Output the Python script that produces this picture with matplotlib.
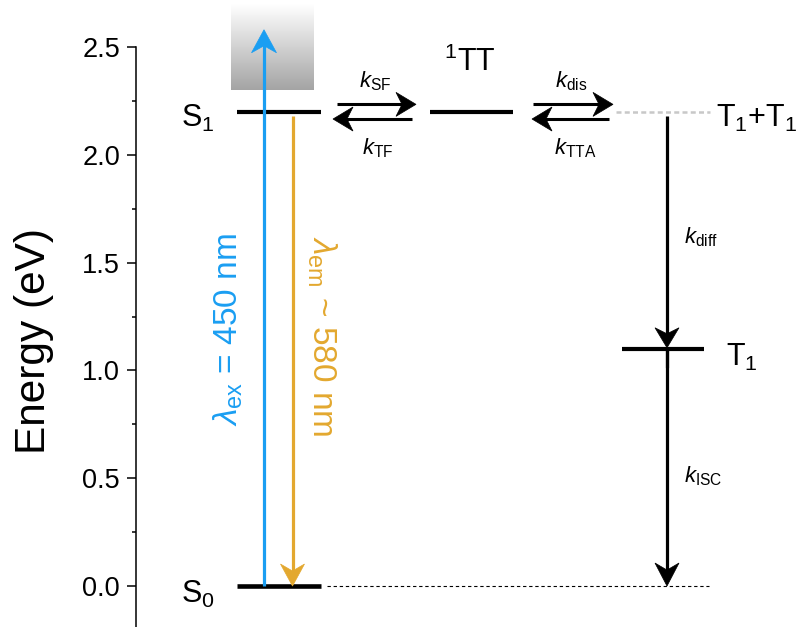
import numpy as np
import matplotlib
matplotlib.use("Agg")
import matplotlib.pyplot as plt
from matplotlib.colors import LinearSegmentedColormap
from matplotlib.patches import Polygon

plt.rcParams["font.family"] = ["Liberation Sans", "DejaVu Sans"]
plt.rcParams["mathtext.fontset"] = "custom"
plt.rcParams["mathtext.rm"] = "Liberation Sans"
plt.rcParams["mathtext.it"] = "Liberation Sans:italic"
plt.rcParams["mathtext.bf"] = "Liberation Sans:bold"

# Energy levels (eV)
E_S0 = 0.0
E_S1 = 2.2
E_TT = 2.2
E_TT_sep = 2.2
E_T1 = 1.1
E_pump_top = 2.58      # excitation arrow reaches into the band above S1
E_band = (2.30, 2.695)  # excited-state manifold shading

yticks = [0.0, 0.5, 1.0, 1.5, 2.0, 2.5]
ytick_labels = ["0.0", "0.5", "1.0", "1.5", "2.0", "2.5"]

BLUE = "#1A9EF2"
ORANGE = "#E3A82F"

W, H = 802, 627
fig = plt.figure(figsize=(W / 100, H / 100), dpi=100)
ax = fig.add_axes([136 / W, 0, (W - 136) / W, 1])
ax.set_xlim(136, 802)
ax.set_ylim(-0.19, 2.718)

for s in ["top", "right", "bottom"]:
    ax.spines[s].set_visible(False)
ax.spines["left"].set_bounds(-0.19, 2.5)
ax.spines["left"].set_linewidth(1.1)
ax.set_xticks([])
ax.set_yticks(yticks)
ax.set_yticklabels(ytick_labels)
ax.set_yticks(np.arange(0.25, 2.5, 0.5), minor=True)
ax.tick_params(axis="y", which="major", length=6.5, width=1.1, labelsize=19.5, pad=5)
ax.tick_params(axis="y", which="minor", length=3, width=1.1)
ax.set_ylabel("Energy (eV)", fontsize=30.5)
ax.yaxis.set_label_coords(-0.123, 0.456)

# shaded excited-state band
cmap = LinearSegmentedColormap.from_list("band", ["#a4a4a4", "#ffffff"])
grad = np.linspace(0, 1, 256).reshape(-1, 1)
ax.imshow(grad, extent=[231, 314, E_band[0], E_band[1]], origin="lower",
          aspect="auto", cmap=cmap, zorder=0, interpolation="bicubic")


def level(x0, x1, e, lw=3.0, **kw):
    ax.plot([x0, x1], [e, e], color=kw.pop("color", "black"), lw=lw,
            solid_capstyle="butt", **kw)


def arrow(x0, y0, x1, y1, color="black", lw=2.2, L=20, hw=12, notch=6, z=3):
    """Straight arrow with a stealth-style head; head sizes in pixels."""
    to_px = ax.transData.transform
    to_data = ax.transData.inverted().transform
    p0 = to_px((x0, y0))
    p1 = to_px((x1, y1))
    d = p1 - p0
    u = d / np.hypot(*d)
    n = np.array([-u[1], u[0]])
    back = p1 - u * L
    head_px = [p1, back + n * hw, p1 - u * (L - notch), back - n * hw]
    shaft_end = to_data(p1 - u * (L - notch) + u * 1.0)
    ax.plot([x0, shaft_end[0]], [y0, shaft_end[1]], color=color, lw=lw,
            solid_capstyle="butt", zorder=z)
    ax.add_patch(Polygon(to_data(np.array(head_px)), closed=True,
                         facecolor=color, edgecolor=color, lw=0.5, zorder=z))


# levels
level(237, 321, E_S1)
level(237, 321, E_S0, lw=3.3)
level(430, 513, E_TT)
level(622, 704, E_T1)
ax.plot([616, 710], [E_TT_sep, E_TT_sep], color="#c8c8c8", lw=1.8,
        linestyle=(0, (2, 1.3)))
ax.plot([327, 709], [E_S0, E_S0], color="black", lw=0.8,
        linestyle=(0, (3, 2.5)))

# excitation and emission
arrow(264, E_S0, 264, E_pump_top, color=BLUE, lw=2.3, L=23, hw=12.5, notch=7)
arrow(292.5, 2.18, 292.5, E_S0, color=ORANGE, lw=2.3, L=22, hw=12, notch=7)

# singlet fission / triplet fusion equilibria
dy = 0.034
arrow(337, E_S1 + dy, 416, E_S1 + dy)
arrow(412, E_S1 - dy, 333, E_S1 - dy)
arrow(533, E_TT + dy, 613, E_TT + dy)
arrow(609, E_TT - dy, 532, E_TT - dy)

# triplet diffusion and intersystem crossing
arrow(667, E_TT_sep - 0.02, 667, E_T1 + 0.005, lw=2.3, L=20, hw=12, notch=6)
ax.plot([667, 667], [E_T1, E_T1 - 0.08], color="black", lw=2.3)
arrow(667, E_T1, 667, E_S0, lw=2.3, L=23, hw=12, notch=7)

# state labels
ax.text(215, 2.17, r"S$_1$", fontsize=22, ha="right", va="center")
ax.text(215, -0.04, r"S$_0$", fontsize=22, ha="right", va="center")
ax.text(470, 2.43, r"$^{1}$TT", fontsize=22, ha="center", va="center")
ax.text(716, 2.17, r"T$_1$+T$_1$", fontsize=22, ha="left", va="center")
ax.text(726, 1.06, r"T$_1$", fontsize=22, ha="left", va="center")

# rate constants
kfs = 16
ax.text(375, 2.34, r"$k_{\rm SF}$", fontsize=kfs, ha="center", va="center")
ax.text(378, 2.03, r"$k_{\rm TF}$", fontsize=kfs, ha="center", va="center")
ax.text(571, 2.34, r"$k_{\rm dis}$", fontsize=kfs, ha="center", va="center")
ax.text(575, 2.03, r"$k_{\rm TTA}$", fontsize=kfs, ha="center", va="center")
ax.text(684, 1.62, r"$k_{\rm diff}$", fontsize=kfs, ha="left", va="center")
ax.text(684, 0.51, r"$k_{\rm ISC}$", fontsize=kfs, ha="left", va="center")

# wavelength labels along the transitions
ax.text(228, 1.19, r"$\lambda_{\rm ex}$ = 450 nm", fontsize=24, color=BLUE,
        rotation=90, ha="center", va="center")
ax.text(322, 1.16, r"$\lambda_{\rm em}$ ~ 580 nm", fontsize=24, color=ORANGE,
        rotation=-90, ha="center", va="center")

fig.savefig("out.png", dpi=100)
